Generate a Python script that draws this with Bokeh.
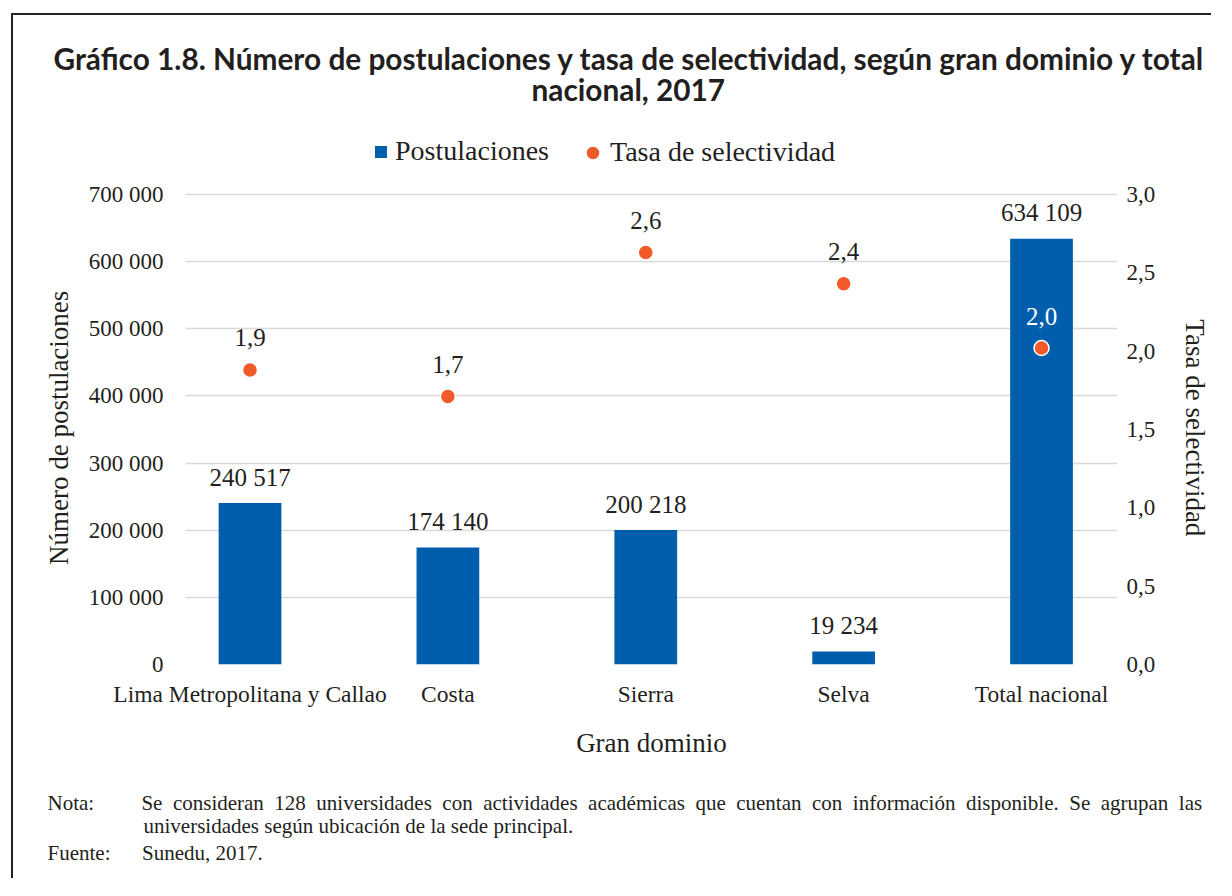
import math
from bokeh.plotting import figure
from bokeh.models import (Range1d, LinearAxis, FixedTicker, ColumnDataSource, Title,
                          Legend, LegendItem)
from bokeh.core.properties import value
from bokeh.embed import file_html
from bokeh.resources import INLINE

# ---------------- data ----------------
categories = ["Lima Metropolitana y Callao", "Costa", "Sierra", "Selva", "Total nacional"]
postulaciones = [240517, 174140, 200218, 19234, 634109]
tasa_selectividad = [1.88, 1.71, 2.63, 2.43, 2.02]
left_ticks = [0, 100000, 200000, 300000, 400000, 500000, 600000, 700000]
right_ticks = [0.0, 0.5, 1.0, 1.5, 2.0, 2.5, 3.0]
left_max, right_max = 700000, 3.0

title_lines = ["Gráfico 1.8. Número de postulaciones y tasa de selectividad, según gran dominio y total",
               "nacional, 2017"]
note_label = "Nota:"
note_lines = ["Se consideran 128 universidades con actividades académicas que cuentan con información disponible. Se agrupan las",
              "universidades según ubicación de la sede principal."]
source_label = "Fuente:"
source_text = "Sunedu, 2017."

# ---------------- styles ----------------
SERIF = "Liberation Serif"
SANS = "Lato"
DARK = "#231F20"
BLUE = "#005EAC"
ORANGE = "#F15A29"
GRID = "#D9D9D9"
NBSP = "\u00A0"

# figure origin in the picture (css margin + border)
OX, OY = 13, 15
W, H = 1200, 865
# plotting area: 700 000 line at y=194, 0 at y=664; frame extended up to hold the legend
AREA_L, AREA_R, AREA_T, AREA_B = 185, 1120, 194, 664
FRAME_T = 130
ext = (AREA_B - FRAME_T) / (AREA_B - AREA_T)


def fmt_thousands(v):
    return f"{int(v):,}".replace(",", " ")


def fmt_dec(v):
    return f"{v:.1f}".replace(".", ",")


xs = [i + 0.5 for i in range(len(categories))]
src = ColumnDataSource(dict(
    x=xs,
    cat=categories,
    post=postulaciones,
    post_lbl=[fmt_thousands(v) for v in postulaciones],
    tasa=tasa_selectividad,
    tasa_lbl=[fmt_dec(v) for v in tasa_selectividad],
    tasa_col=["white" if c == "Total nacional" else DARK for c in categories],
))

p = figure(width=W, height=H, output_backend="svg", toolbar_location=None,
           x_range=Range1d(0.174, 4.884), y_range=Range1d(0, left_max * ext),
           min_border_left=AREA_L - OX, min_border_right=OX + W - AREA_R,
           min_border_top=FRAME_T - OY, min_border_bottom=OY + H - AREA_B,
           title=None)
p.styles = {"border-left": "2px solid #222222", "border-top": "2px solid #222222",
            "margin-left": "11px", "margin-top": "13px"}
p.outline_line_color = None
p.background_fill_color = "white"
p.border_fill_color = "white"
p.extra_y_ranges = {"tasa": Range1d(0, right_max * ext)}

# label padding so that the axis titles stay centred on the plotting area
pad = NBSP * 9

p.xaxis.ticker = FixedTicker(ticks=xs)
p.xaxis.major_label_overrides = {x: c for x, c in zip(xs, categories)}
p.xaxis.axis_label = "Gran dominio"
p.xgrid.visible = False

p.yaxis.ticker = FixedTicker(ticks=left_ticks)
p.yaxis.major_label_overrides = {t: fmt_thousands(t) for t in left_ticks}
p.yaxis.axis_label = "Número de postulaciones" + pad
p.ygrid.ticker = FixedTicker(ticks=left_ticks)
p.ygrid.grid_line_color = GRID
p.ygrid.grid_line_width = 1.5

raxis = LinearAxis(y_range_name="tasa", ticker=FixedTicker(ticks=right_ticks),
                   axis_label=pad + "Tasa de selectividad")
raxis.major_label_overrides = {t: fmt_dec(t) for t in right_ticks}
p.add_layout(raxis, "right")

for ax in [p.xaxis[0], p.yaxis[0], raxis]:
    ax.axis_line_color = None
    ax.major_tick_line_color = None
    ax.minor_tick_line_color = None
    ax.major_tick_out = 0
    ax.major_tick_in = 0
    ax.major_label_text_font = SERIF
    ax.major_label_text_font_size = "23px"
    ax.major_label_text_color = DARK
    ax.axis_label_text_font = SERIF
    ax.axis_label_text_font_size = "27px"
    ax.axis_label_text_font_style = "normal"
    ax.axis_label_text_color = DARK
p.xaxis.major_label_text_font_size = "23.5px"

p.xaxis.major_label_standoff = 16
p.xaxis.axis_label_standoff = 18
p.yaxis.major_label_standoff = 22
p.yaxis.axis_label_standoff = 12
raxis.major_label_standoff = 9
raxis.axis_label_standoff = 22

bars = p.vbar(x="x", top="post", width=0.317, source=src, fill_color=BLUE, line_color=None)
p.text(x="x", y="post", text="post_lbl", source=src, text_align="center",
       text_baseline="alphabetic", y_offset=-26, text_font=value(SERIF),
       text_font_size="25px", text_color=DARK)

pts = p.scatter(x="x", y="tasa", source=src, y_range_name="tasa", size=15,
                fill_color=ORANGE, line_color="white", line_width=1.5)
p.text(x="x", y="tasa", text="tasa_lbl", source=src, y_range_name="tasa",
       text_align="center", text_baseline="alphabetic", y_offset=-32,
       text_font=value(SERIF), text_font_size="25px", text_color="tasa_col")


def style_legend(lg, glyph, standoff):
    lg.glyph_width = glyph
    lg.glyph_height = glyph
    lg.label_text_font = SERIF
    lg.label_text_font_size = "28px"
    lg.label_text_color = DARK
    lg.label_standoff = standoff
    lg.padding = 0
    lg.margin = 0
    lg.border_line_color = None
    lg.background_fill_alpha = 0


legend_bars = Legend(items=[LegendItem(label="Postulaciones", renderers=[bars])],
                     location=(373 - AREA_L, AREA_B - 167), orientation="horizontal")
style_legend(legend_bars, 15, 7)
legend_pts = Legend(items=[LegendItem(label="Tasa de selectividad", renderers=[pts])],
                    location=(575 - AREA_L, AREA_B - 169.5), orientation="horizontal")
style_legend(legend_pts, 35, 0)
p.add_layout(legend_bars, "center")
p.add_layout(legend_pts, "center")


def make_title(text, offset, size, font, style, standoff):
    t = Title(text=text, align="left", offset=offset, text_font=font,
              text_font_size=size, text_font_style=style, text_color=DARK,
              vertical_align="bottom", standoff=0)
    try:
        t.standoff = standoff
    except Exception:
        t.standoff = max(standoff, 0)
    return t


# spacer between plot area and title, then the two title lines
p.add_layout(make_title(NBSP, 0, "1px", SERIF, "normal", 20.5), "above")
p.add_layout(make_title(title_lines[1], 531 - AREA_L, "29.8px", SANS, "bold", 0), "above")
p.add_layout(make_title(title_lines[0], 53 - AREA_L, "29.8px", SANS, "bold", -12), "above")

# notes below the x axis (first line spread to the full width, as in the justified original)
line1 = note_lines[0].replace(" ", " " + NBSP)
p.add_layout(make_title(NBSP, 0, "1px", SERIF, "normal", 25), "below")
p.add_layout(make_title(note_label + NBSP * 9 + line1, 47 - AREA_L, "21px", SERIF, "normal", 0), "below")
p.add_layout(make_title(note_lines[1], 143 - AREA_L, "21px", SERIF, "normal", -6.4), "below")
p.add_layout(make_title(source_label + NBSP * 6 + source_text, 47 - AREA_L, "21px", SERIF, "normal", 8), "below")

open("out.html", "w").write(file_html(p, INLINE))
